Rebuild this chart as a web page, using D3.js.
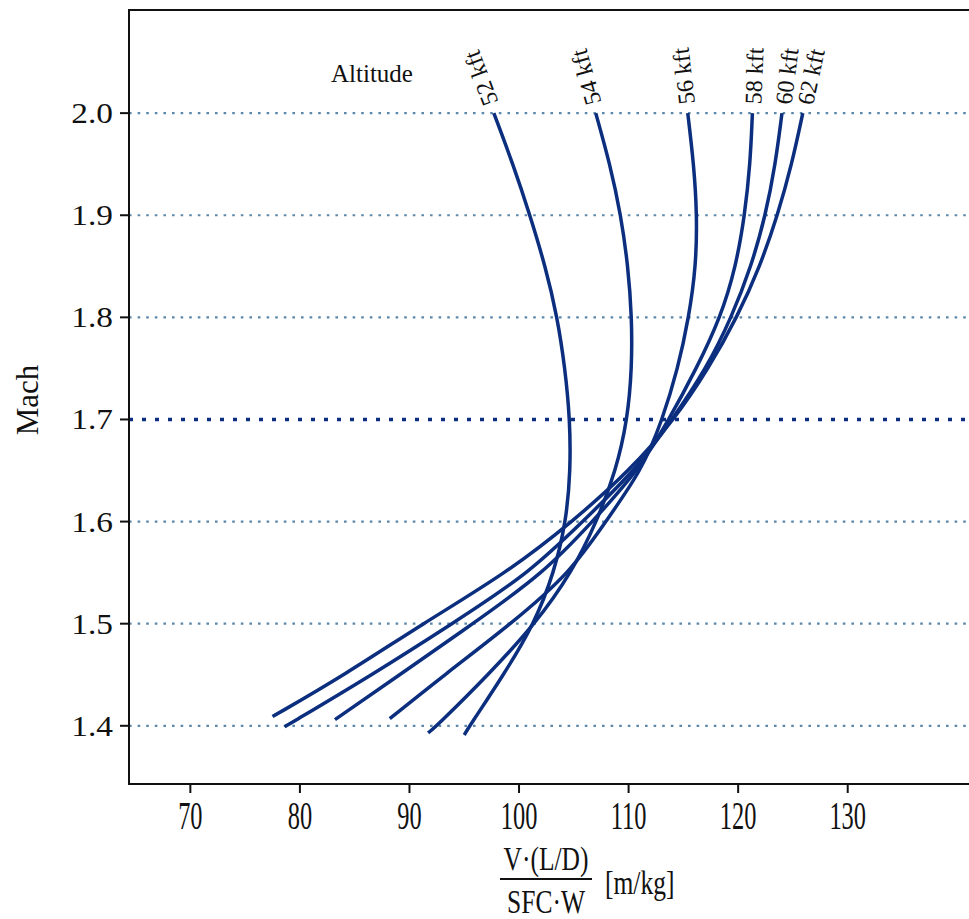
<!DOCTYPE html>
<html>
<head>
<meta charset="utf-8">
<script src="https://d3js.org/d3.v7.min.js"></script>
<style>
  body { margin: 0; background: #fff; }
  text { font-family: "Liberation Serif", "DejaVu Serif", serif; fill: #111; }
</style>
</head>
<body>
<svg id="chart" width="969" height="919"></svg>
<script>
// Mach levels where the curves were read, top to bottom
var machLevels = [2.0, 1.95, 1.9, 1.85, 1.8, 1.75, 1.7, 1.65, 1.6, 1.55, 1.5, 1.45, 1.4];

var altitudes = ["52 kft", "54 kft", "56 kft", "58 kft", "60 kft", "62 kft"];

// V(L/D)/(SFC W) [m/kg] at each Mach level
var range52 = [97.7, 99.45, 101.0, 102.4, 103.5, 104.2, 104.65, 104.7, 104.3, 103.2, 101.4, 98.6, 95.5];
var range54 = [107.0, 108.3, 109.3, 109.95, 110.3, 110.3, 109.9, 108.85, 107.1, 104.8, 101.5, 97.2, 92.5];
var range56 = [115.4, 115.95, 116.25, 116.15, 115.5, 114.5, 113.1, 111.2, 107.9, 104.7, 99.3, 93.2];
var range58 = [121.3, 121.1, 120.6, 119.8, 118.4, 116.2, 113.7, 110.9, 106.7, 102.3, 95.8, 89.1];
var range60 = [124.0, 123.4, 122.5, 121.2, 119.4, 117.1, 114.0, 110.6, 105.8, 101.0, 93.9, 86.6];
var range62 = [125.9, 124.9, 123.6, 122.0, 119.9, 117.3, 114.2, 110.1, 104.9, 98.9, 91.2, 84.1];

// last point of each curve (Mach, range)
var endMach = [1.391, 1.393, 1.407, 1.406, 1.399, 1.409];
var endRange = [95.0, 91.7, 88.2, 83.2, 78.6, 77.5];

var xTicks = [70, 80, 90, 100, 110, 120, 130];
var yTicks = [1.4, 1.5, 1.6, 1.7, 1.8, 1.9, 2.0];

var ranges = [range52, range54, range56, range58, range60, range62];

var plotL = 129, plotR = 969, plotT = 10, plotB = 784;
var navy = "#0b2e7e";

var svg = d3.select("#chart");

var x = d3.scaleLinear().domain([64.4, 141.07]).range([plotL, plotR]);
var y = d3.scaleLinear().domain([1.343, 2.101]).range([plotB, plotT]);

// horizontal dotted grid
svg.append("g").selectAll("line")
    .data(yTicks)
    .enter().append("line")
    .attr("x1", plotL)
    .attr("x2", plotR)
    .attr("y1", function(d) { return y(d); })
    .attr("y2", function(d) { return y(d); })
    .style("stroke", function(d) { return d === 1.7 ? navy : "#5d88aa"; })
    .style("stroke-width", function(d) { return d === 1.7 ? 3.5 : 2.2; })
    .style("stroke-dasharray", function(d) { return d === 1.7 ? "4,9" : "2.6,6"; });

// curves
var line = d3.line()
    .x(function(d) { return x(d.v); })
    .y(function(d) { return y(d.m); })
    .curve(d3.curveBasis);

var series = ranges.map(function(r, i) {
    var pts = r.map(function(v, j) { return { m: machLevels[j], v: v }; });
    pts.push({ m: endMach[i], v: endRange[i] });
    return { name: altitudes[i], pts: pts };
});

svg.append("g").selectAll("path")
    .data(series)
    .enter().append("path")
    .attr("d", function(d) { return line(d.pts); })
    .style("fill", "none")
    .style("stroke", navy)
    .style("stroke-width", "3.5px");

// altitude labels, aligned with the top of each curve
series.forEach(function(s) {
    var p0 = s.pts[0], p1 = s.pts[1];
    var dx = x(p0.v) - x(p1.v), dy = y(p0.m) - y(p1.m);
    var len = Math.sqrt(dx * dx + dy * dy);
    var ang = Math.atan2(dy, dx) * 180 / Math.PI;
    var tx = x(p0.v) + dx / len * 9, ty = y(p0.m) + dy / len * 9;
    svg.append("text")
        .attr("transform", "translate(" + tx + "," + ty + ") rotate(" + ang + ")")
        .attr("dy", "0.35em")
        .style("font-size", "24px")
        .text(s.name);
});

svg.append("text")
    .attr("x", 372)
    .attr("y", 82)
    .attr("text-anchor", "middle")
    .style("font-size", "25px")
    .text("Altitude");

// frame
svg.append("path")
    .attr("d", "M" + plotR + "," + plotT + "H" + plotL + "V" + plotB + "H" + plotR)
    .style("fill", "none")
    .style("stroke", "#111")
    .style("stroke-width", "2px");

// y axis
var yAxis = svg.append("g");
yAxis.selectAll("line")
    .data(yTicks)
    .enter().append("line")
    .attr("x1", plotL - 9).attr("x2", plotL)
    .attr("y1", function(d) { return y(d); })
    .attr("y2", function(d) { return y(d); })
    .style("stroke", "#111").style("stroke-width", 2);
yAxis.selectAll("text")
    .data(yTicks)
    .enter().append("text")
    .attr("transform", function(d) { return "translate(" + 113 + "," + (y(d) + 10) + ") scale(1.15,1)"; })
    .attr("text-anchor", "end")
    .style("font-size", "29px")
    .text(d3.format(".1f"));

svg.append("text")
    .attr("transform", "translate(38,400) rotate(-90)")
    .attr("text-anchor", "middle")
    .style("font-size", "31px")
    .text("Mach");

// x axis
var xAxis = svg.append("g");
xAxis.selectAll("line")
    .data(xTicks)
    .enter().append("line")
    .attr("x1", function(d) { return x(d); })
    .attr("x2", function(d) { return x(d); })
    .attr("y1", plotB).attr("y2", plotB + 9)
    .style("stroke", "#111").style("stroke-width", 2);
xAxis.selectAll("text")
    .data(xTicks)
    .enter().append("text")
    .attr("transform", function(d) { return "translate(" + x(d) + ",829) scale(0.74,1.2)"; })
    .attr("text-anchor", "middle")
    .style("font-size", "33px")
    .text(function(d) { return d; });

// x label as a fraction
var lab = svg.append("g").attr("transform", "translate(546,0)");
lab.append("text")
    .attr("transform", "translate(0,870) scale(0.88,1.15)")
    .attr("text-anchor", "middle")
    .style("font-size", "29px")
    .text("V\u00b7(L/D)");
lab.append("line")
    .attr("x1", -46).attr("x2", 46)
    .attr("y1", 879).attr("y2", 879)
    .style("stroke", "#111").style("stroke-width", 2.2);
lab.append("text")
    .attr("transform", "translate(0,913) scale(0.88,1.15)")
    .attr("text-anchor", "middle")
    .style("font-size", "29px")
    .text("SFC\u00b7W");
lab.append("text")
    .attr("transform", "translate(59,894) scale(0.88,1.15)")
    .style("font-size", "29px")
    .text("[m/kg]");
</script>
</body>
</html>
